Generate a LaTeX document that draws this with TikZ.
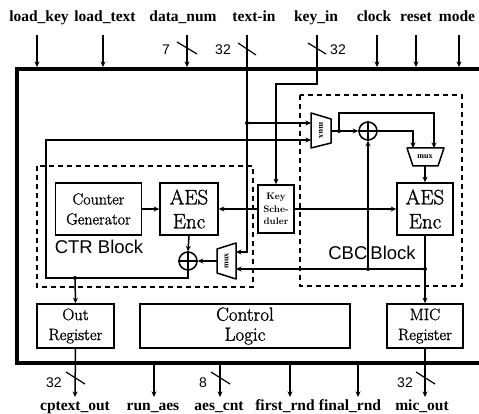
\documentclass[tikz,border=0pt]{standalone}
\usepackage{fontspec}
\newfontfamily\tlab{Liberation Serif}
\newfontfamily\hel{Liberation Sans}
\newfontfamily\cent{Latin Modern Roman}[FakeBold=1.2]
\usetikzlibrary{arrows.meta}
\begin{document}
\begin{tikzpicture}[x=1pt,y=-1pt,
  wire/.style={line width=1.5pt},
  arr/.style={wire,-{Stealth[length=5.5pt,width=5pt]}},
  bus/.style={line width=2.3pt},
  blk/.style={draw,line width=1.6pt,inner sep=0pt,align=center},
  dbox/.style={line width=1.5pt,dash pattern=on 5pt off 4pt},
  dot/.style={circle,fill,inner sep=0pt,minimum size=4pt},
  xor/.style={circle,draw,line width=1.5pt,minimum size=18pt,inner sep=0pt},
  sig/.style={font=\tlab\bfseries\fontsize{15.5}{16}\selectfont,anchor=base,inner sep=0pt},
  num/.style={font=\hel\fontsize{14}{14}\selectfont,anchor=base,inner sep=0pt},
  slash/.style={line width=1.2pt},
  muxs/.style={draw,line width=1.5pt,line join=round},
  muxl/.style={font=\tlab\bfseries\fontsize{8}{8}\selectfont,inner sep=0pt}
]
\useasboundingbox (0,0) rectangle (479,414);

% ---------- main box ----------
\draw[line width=3.5pt] (495,69) -| (17,363) -- (495,363);

% ---------- dashed blocks ----------
\draw[dbox] (37,166) rectangle (253,287);
\draw[dbox] (300,95) rectangle (462,286);

% ---------- blocks ----------
\node[blk,minimum width=86pt,minimum height=52pt,font=\cent\fontsize{16}{20}\selectfont] (cg) at (98.5,209) {Counter\\Generator};
\node[blk,minimum width=58pt,minimum height=52pt,font=\cent\fontsize{21}{24}\selectfont] (aes1) at (189,209) {AES\\Enc};
\node[blk,minimum width=36pt,minimum height=48pt,font=\bfseries\fontsize{9.5}{12.5}\selectfont] (ks) at (276,209) {Key\\Sche-\\duler};
\node[blk,minimum width=56pt,minimum height=52pt,font=\cent\fontsize{21}{24}\selectfont] (aes2) at (425,209) {AES\\Enc};
\node[blk,minimum width=77pt,minimum height=44pt,font=\cent\fontsize{16.5}{20}\selectfont] (outr) at (75.5,326) {Out\\Register};
\node[blk,minimum width=210pt,minimum height=44pt,font=\cent\fontsize{19}{20}\selectfont] (ctl) at (245,326) {Control\\Logic};
\node[blk,minimum width=76pt,minimum height=44pt,font=\cent\fontsize{16.5}{20}\selectfont] (mic) at (425,326) {MIC\\Register};

\node[font=\hel\fontsize{18.5}{18.5}\selectfont,anchor=base,inner sep=0pt] (ctrlab) at (99,253) {CTR Block};
\node[font=\hel\fontsize{18.5}{18.5}\selectfont,anchor=base,inner sep=0pt] (cbclab) at (372,259) {CBC\,Block};

% ---------- muxes ----------
\draw[muxs] (311,113) -- (331,119) -- (331,143) -- (311,148) -- cycle;
\node[muxl,rotate=-90] (m1) at (321,130.5) {mux};
\coordinate (m1a) at (311,123);
\coordinate (m1b) at (311,140);
\coordinate (m1o) at (331,131);

\draw[muxs] (236,243) -- (217,249) -- (217,273) -- (236,279) -- cycle;
\node[muxl,rotate=90] (m2) at (226.5,261) {mux};
\coordinate (m2a) at (236,252);
\coordinate (m2b) at (236,269);
\coordinate (m2o) at (217,261);

\draw[muxs] (407,148) -- (444,148) -- (438,166) -- (413,166) -- cycle;
\node[muxl] (m3) at (425,157) {mux};
\coordinate (m3a) at (413,148);
\coordinate (m3b) at (434,148);
\coordinate (m3o) at (425,166);

% ---------- xors ----------
\node[xor] (x1) at (188,261) {};
\draw[wire] (x1.north) -- (x1.south) (x1.west) -- (x1.east);
\node[xor] (x2) at (368,131) {};
\draw[wire] (x2.north) -- (x2.south) (x2.west) -- (x2.east);

% ---------- dots / corners ----------
\node[dot] (d1) at (75,278) {};
\node[dot] (d2) at (247,123) {};
\node[dot] (d3) at (339,131) {};
\node[dot] (d4) at (425,269) {};
\node[dot] (d5) at (368,269) {};
\coordinate (fb1) at (46,278);
\coordinate (fb2) at (46,140);
\coordinate (c1) at (434,113);

% ---------- internal wires ----------
\draw[arr] (cg.east) -- (aes1.west);
\draw[arr] (ks.west) -- (aes1.east);
\draw[arr] (ks.east) -- (aes2.west);
\draw[arr] (aes1.south) -- (x1.north);
\draw[arr] (m2o) -- (x1.east);
\draw[arr] (x1.south) |- (fb1) -- (fb2) -- (m1b);
\draw[arr] (d1) -- (outr.north);
\draw[arr] (d2) -- (m1a);
\draw[arr] (m1o) -- (x2.west);
\draw[arr] (d3) |- (c1) -- (m3b);
\draw[arr] (x2.east) -| (m3a);
\draw[arr] (m3o) -- (aes2.north);
\draw[arr] (aes2.south) -- (mic.north);
\draw[arr] (d4) -- (m2b);
\draw[arr] (d5) -- (x2.south);

% ---------- top signals ----------
\node[sig] (lk) at (39,22) {load\_key};
\node[sig] (lt) at (105,22) {load\_text};
\node[sig] (dn) at (183,22) {data\_num};
\node[sig] (ti) at (254,22) {text-in};
\node[sig] (ki) at (316,22) {key\_in};
\node[sig] (ck) at (374,22) {clock};
\node[sig] (rs) at (416,22) {reset};
\node[sig] (md) at (457,22) {mode};

\draw[arr] (37,35) -- (37,67);
\draw[arr] (103,35) -- (103,67);
\draw[arr] (187,35) -- (187,67);
\draw[arr] (377,35) -- (377,67);
\draw[arr] (416,35) -- (416,67);
\draw[arr] (459,35) -- (459,67);

\coordinate (tiA) at (247,35);
\coordinate (tiB) at (247,252);
\draw[arr] (tiA) -- (tiB) -- (m2a);
\draw[bus] (tiA) -- (247,69);

\coordinate (kiA) at (317,35);
\coordinate (kiB) at (317,84);
\coordinate (kiC) at (276,84);
\draw[arr] (kiA) -- (kiB) -- (kiC) -- (ks.north);
\draw[bus] (kiA) -- (317,69);

% bus widths, top
\draw[slash] (177,42) -- (197,54);
\node[num] (n7) at (166,55) {7};
\draw[slash] (238,43) -- (256,55);
\node[num] (n32a) at (223,55) {32};
\draw[slash] (308,43) -- (326,54);
\node[num] (n32b) at (338,55) {32};

% ---------- bottom signals ----------
\draw[arr] (outr.south) -- (75,397);
\draw[arr] (154,363) -- (154,397);
\draw[arr] (220,363) -- (220,397);
\draw[arr] (290,363) -- (290,397);
\draw[arr] (358,363) -- (358,397);
\draw[arr] (mic.south) -- (425,397);

\draw[slash] (66,372) -- (85,384);
\node[num] (n32c) at (54,387) {32};
\draw[slash] (211,372) -- (230,384);
\node[num] (n8) at (203,387) {8};
\draw[slash] (416,372) -- (435,384);
\node[num] (n32d) at (405,387) {32};

\node[sig] (co) at (75,410) {cptext\_out};
\node[sig] (ra) at (153,410) {run\_aes};
\node[sig] (ac) at (219,410) {aes\_cnt};
\node[sig] (fr) at (285,410) {first\_rnd};
\node[sig] (fn) at (350,410) {final\_rnd};
\node[sig] (mo) at (422,410) {mic\_out};
\end{tikzpicture}
\end{document}
